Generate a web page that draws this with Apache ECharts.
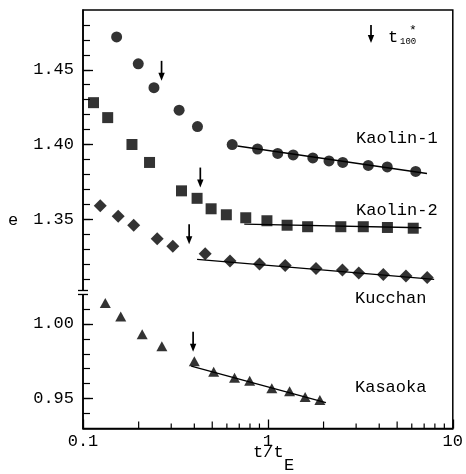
<!DOCTYPE html>
<html>
<head>
<meta charset="utf-8">
<script src="https://cdn.jsdelivr.net/npm/echarts@6/dist/echarts.min.js"></script>
<style>
  html, body { margin: 0; padding: 0; background: #fff; }
  #chart { width: 466px; height: 474px; }
</style>
</head>
<body>
<div id="chart"></div>
<script>
// Void ratio e against normalised time t/tE for four clays.
const kaolin1T = [0.152, 0.199, 0.242, 0.331, 0.416, 0.641, 0.879, 1.13, 1.37, 1.75, 2.14, 2.54, 3.49, 4.42, 6.30];
const kaolin1E = [1.472, 1.454, 1.438, 1.423, 1.412, 1.400, 1.397, 1.394, 1.393, 1.391, 1.389, 1.388, 1.386, 1.385, 1.382];

const kaolin2T = [0.114, 0.136, 0.184, 0.229, 0.341, 0.414, 0.493, 0.596, 0.759, 0.988, 1.27, 1.64, 2.48, 3.28, 4.43, 6.11];
const kaolin2E = [1.428, 1.418, 1.400, 1.388, 1.369, 1.364, 1.357, 1.353, 1.351, 1.349, 1.346, 1.345, 1.345, 1.345, 1.3445, 1.344];

const kucchanT = [0.124, 0.155, 0.188, 0.252, 0.306, 0.458, 0.624, 0.901, 1.24, 1.82, 2.53, 3.10, 4.21, 5.58, 7.27];
const kucchanE = [1.359, 1.352, 1.346, 1.337, 1.332, 1.327, 1.322, 1.320, 1.319, 1.317, 1.316, 1.314, 1.313, 1.312, 1.311];

const kasaokaT = [0.132, 0.160, 0.209, 0.267, 0.400, 0.509, 0.660, 0.797, 1.05, 1.31, 1.59, 1.91];
const kasaokaE = [1.014, 1.005, 0.993, 0.985, 0.975, 0.968, 0.964, 0.962, 0.957, 0.955, 0.951, 0.949];

// Secondary-compression fit lines (end points)
const kaolin1FitT = [0.684, 7.25];
const kaolin1FitE = [1.399, 1.3806];
const kaolin2FitT = [0.745, 6.76];
const kaolin2FitE = [1.3467, 1.3443];
const kucchanFitT = [0.414, 7.93];
const kucchanFitE = [1.3232, 1.3098];
const kasaokaFitT = [0.385, 2.06];
const kasaokaFitE = [0.9717, 0.9473];

// End of primary consolidation t100* (arrow tips)
const t100T = [0.266, 0.431, 0.375, 0.394];
const t100E = [1.4426, 1.3712, 1.3333, 0.9813];

// Axis ticks
const xMinorTicks = [0.2, 0.3, 0.4, 0.5, 0.6, 0.7, 0.8, 0.9, 2, 3, 4, 5, 6, 7, 8, 9];
const yLabelValues = [1.45, 1.40, 1.35, 1.00, 0.95];
const yTicksUpper = [1.31, 1.32, 1.33, 1.34, 1.35, 1.36, 1.37, 1.38, 1.39, 1.40, 1.41, 1.42, 1.43, 1.44, 1.45, 1.46, 1.47, 1.48];
const yTicksLower = [0.94, 0.95, 0.96, 0.97, 0.98, 0.99, 1.00, 1.01];

// The e axis is broken: the lower band (around 1.0) is shifted up to sit under the upper band.
const LOWER_SHIFT = 0.28;
const BREAK_AT = 1.301;
const Y_MIN = 1.21, Y_MAX = 1.49;
const toAxis = e => (e < 1.15 ? e + LOWER_SHIFT : e);
const fromAxis = v => (v < BREAK_AT ? v - LOWER_SHIFT : v);

const INK = '#000';
const FONT = '"Liberation Mono", "DejaVu Sans Mono", monospace';

const pts = (ts, es) => ts.map((t, i) => [t, toAxis(es[i])]);

function scatter(ts, es, symbol, size) {
  return {
    type: 'scatter', data: pts(ts, es), symbol: symbol, symbolSize: size,
    itemStyle: { color: INK }, z: 4, silent: true
  };
}
function fit(ts, es) {
  return {
    type: 'line', data: pts(ts, es), showSymbol: false, symbol: 'none',
    lineStyle: { color: INK, width: 1.3 }, z: 3, silent: true
  };
}

const chart = echarts.init(document.getElementById('chart'), null, { renderer: 'canvas' });

chart.setOption({
  animation: false,
  backgroundColor: '#fff',
  grid: { left: 83, right: 8, top: 10, bottom: 45.5, show: true, borderColor: INK, borderWidth: 1.5, backgroundColor: 'transparent' },
  xAxis: [{
    type: 'log', logBase: 10, min: 0.1, max: 10,
    axisLine: { show: true, lineStyle: { color: INK, width: 1.5 } },
    axisTick: { show: true, inside: true, length: 9, lineStyle: { color: INK, width: 1.3 } },
    axisLabel: {
      color: INK, fontFamily: FONT, fontSize: 17, margin: 4,
      formatter: v => (v < 1 ? v.toFixed(1) : String(Math.round(v)))
    },
    splitLine: { show: false }, minorTick: { show: false }
  }],
  yAxis: [{
    type: 'value', min: Y_MIN, max: Y_MAX,
    axisLine: { show: true, lineStyle: { color: INK, width: 1.5 } },
    axisTick: { show: true, inside: true, length: 10, customValues: yLabelValues.map(toAxis), lineStyle: { color: INK, width: 1.3 } },
    axisLabel: {
      color: INK, fontFamily: FONT, fontSize: 17, margin: 9,
      customValues: yLabelValues.map(toAxis),
      formatter: v => fromAxis(v).toFixed(2)
    },
    splitLine: { show: false }
  }, {
    type: 'value', min: Y_MIN, max: Y_MAX, position: 'left',
    axisLine: { show: false },
    axisTick: { show: true, inside: true, length: 7, customValues: yTicksUpper.concat(yTicksLower).map(toAxis), lineStyle: { color: INK, width: 1.2 } },
    axisLabel: { show: false },
    splitLine: { show: false }
  }],
  series: [
    scatter(kaolin1T, kaolin1E, 'circle', 11),
    scatter(kaolin2T, kaolin2E, 'rect', 11),
    scatter(kucchanT, kucchanE, 'diamond', 13),
    scatter(kasaokaT, kasaokaE, 'triangle', [11, 10]),
    fit(kaolin1FitT, kaolin1FitE),
    fit(kaolin2FitT, kaolin2FitE),
    fit(kucchanFitT, kucchanFitE),
    fit(kasaokaFitT, kasaokaFitE),
    {
      // t100* arrows
      type: 'custom', silent: true, clip: false, z: 5,
      data: pts(t100T, t100E),
      renderItem: (params, api) => {
        const p = api.coord([api.value(0), api.value(1)]);
        return {
          type: 'group', children: [
            { type: 'line', shape: { x1: p[0], y1: p[1] - 20, x2: p[0], y2: p[1] - 6 }, style: { stroke: INK, lineWidth: 1.7 } },
            { type: 'polygon', shape: { points: [[p[0] - 3.2, p[1] - 8], [p[0] + 3.2, p[1] - 8], [p[0], p[1]]] }, style: { fill: INK } }
          ]
        };
      }
    },
    {
      // minor ticks of the log t axis
      type: 'custom', silent: true, clip: false, z: 5,
      data: xMinorTicks.map(v => [v, Y_MIN]),
      renderItem: (params, api) => {
        const v = api.value(0);
        const p = api.coord([v, Y_MIN]);
        const m = Math.round(v / Math.pow(10, Math.floor(Math.log10(v) + 1e-9)));
        const len = (m === 5 || m === 2) ? 7 : 5;
        return { type: 'line', shape: { x1: p[0], y1: p[1], x2: p[0], y2: p[1] - len }, style: { stroke: INK, lineWidth: 1.2 } };
      }
    },
    {
      // break symbol on the e axis
      type: 'custom', silent: true, clip: false, z: 6,
      data: [[0.1, BREAK_AT]],
      renderItem: (params, api) => {
        const p = api.coord([api.value(0), api.value(1)]);
        return {
          type: 'group', children: [
            { type: 'rect', shape: { x: p[0] - 2, y: p[1] - 1.5, width: 4, height: 3 }, style: { fill: '#fff' } },
            { type: 'line', shape: { x1: p[0] - 5, y1: p[1] - 2, x2: p[0] + 5, y2: p[1] - 2 }, style: { stroke: INK, lineWidth: 1.3 } },
            { type: 'line', shape: { x1: p[0] - 5, y1: p[1] + 2, x2: p[0] + 5, y2: p[1] + 2 }, style: { stroke: INK, lineWidth: 1.3 } }
          ]
        };
      }
    }
  ],
  graphic: [
    { type: 'text', style: { text: 'e', x: 8, y: 220, fill: INK, font: '17px ' + FONT, align: 'left', verticalAlign: 'middle' } },
    { type: 'text', style: { text: 't/t', x: 253, y: 452, fill: INK, font: '17px ' + FONT, align: 'left', verticalAlign: 'middle' } },
    { type: 'text', style: { text: 'E', x: 284, y: 465, fill: INK, font: '17px ' + FONT, align: 'left', verticalAlign: 'middle' } },
    { type: 'text', style: { text: 'Kaolin-1', x: 356, y: 138, fill: INK, font: '17px ' + FONT, align: 'left', verticalAlign: 'middle' } },
    { type: 'text', style: { text: 'Kaolin-2', x: 356, y: 210, fill: INK, font: '17px ' + FONT, align: 'left', verticalAlign: 'middle' } },
    { type: 'text', style: { text: 'Kucchan', x: 355, y: 298, fill: INK, font: '17px ' + FONT, align: 'left', verticalAlign: 'middle' } },
    { type: 'text', style: { text: 'Kasaoka', x: 355, y: 387, fill: INK, font: '17px ' + FONT, align: 'left', verticalAlign: 'middle' } },
    // key for the t100* arrows
    { type: 'line', shape: { x1: 371, y1: 25, x2: 371, y2: 37 }, style: { stroke: INK, lineWidth: 1.7 } },
    { type: 'polygon', shape: { points: [[367.8, 35], [374.2, 35], [371, 43]] }, style: { fill: INK } },
    { type: 'text', style: { text: 't', x: 388, y: 37, fill: INK, font: '17px ' + FONT, align: 'left', verticalAlign: 'middle' } },
    { type: 'text', style: { text: '100', x: 400, y: 42, fill: INK, font: '9px ' + FONT, align: 'left', verticalAlign: 'middle' } },
    { type: 'text', style: { text: '*', x: 409, y: 31, fill: INK, font: '13px ' + FONT, align: 'left', verticalAlign: 'middle' } }
  ]
});
</script>
</body>
</html>
